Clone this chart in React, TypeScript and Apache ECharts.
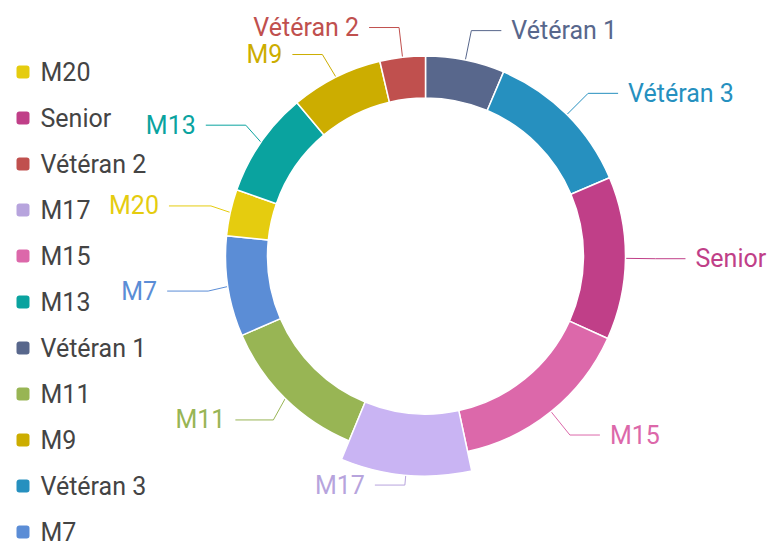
import React, { useEffect, useRef } from "react";
import * as echarts from "echarts";

// Slices in clockwise order from 12 o'clock
const categories = ["Vétéran 1", "Vétéran 3", "Senior", "M15", "M17", "M11", "M7", "M20", "M13", "M9", "Vétéran 2"];
const values = [23, 44, 47.4, 53.5, 34.6, 44.2, 29.2, 13.5, 30.7, 26.8, 13.2];
const colors = ["#58678c", "#2690bf", "#c03f88", "#dc68aa", "#b7a4dd", "#98b554", "#5b8dd6", "#e5cc0f", "#0aa39f", "#ccad00", "#c0504e"];
const legendOrder = ["M20", "Senior", "Vétéran 2", "M17", "M15", "M13", "Vétéran 1", "M11", "M9", "Vétéran 3", "M7"];
const highlighted = "M17";
// second label-line segment length per slice
const lineLen2 = [30, 30, 30, 30, 30, 38, 41, 42, 40, 30, 30];

export default function App() {
  const ref = useRef<HTMLDivElement>(null);
  useEffect(() => {
    if (!ref.current) return;
    const chart = echarts.init(ref.current, undefined, { renderer: "svg" });
    chart.setOption({
      animation: false,
      legend: {
        orient: "vertical",
        left: 14.5,
        top: 59.5,
        padding: 0,
        itemGap: 21,
        itemWidth: 15,
        itemHeight: 15,
        icon: "roundRect",
        data: legendOrder,
        textStyle: { fontSize: 25, color: "#444", fontFamily: "Roboto", padding: [0, 0, 0, 5] },
      },
      series: [
        {
          type: "pie",
          center: [425.5, 256],
          radius: [158, 200],
          startAngle: 90,
          clockwise: true,
          itemStyle: { borderColor: "#fff", borderWidth: 1.5 },
          label: {
            show: true,
            position: "outside",
            fontSize: 25,
            fontFamily: "Roboto",
            color: "inherit",
            distanceToLabelLine: 10,
          },
          labelLine: { show: true, length: 30, length2: 30, lineStyle: { width: 1 } },
          emphasis: { scale: true, scaleSize: 20 },
          data: categories.map((name, i) => ({
            name,
            value: values[i],
            itemStyle: { color: colors[i] },
            labelLine: { length2: lineLen2[i] },
          })),
        },
      ],
    });
    chart.dispatchAction({ type: "highlight", seriesIndex: 0, dataIndex: categories.indexOf(highlighted) });
    return () => chart.dispose();
  }, []);
  return <div ref={ref} style={{ position: "absolute", left: 0, top: 0, width: 777, height: 547 }} />;
}
